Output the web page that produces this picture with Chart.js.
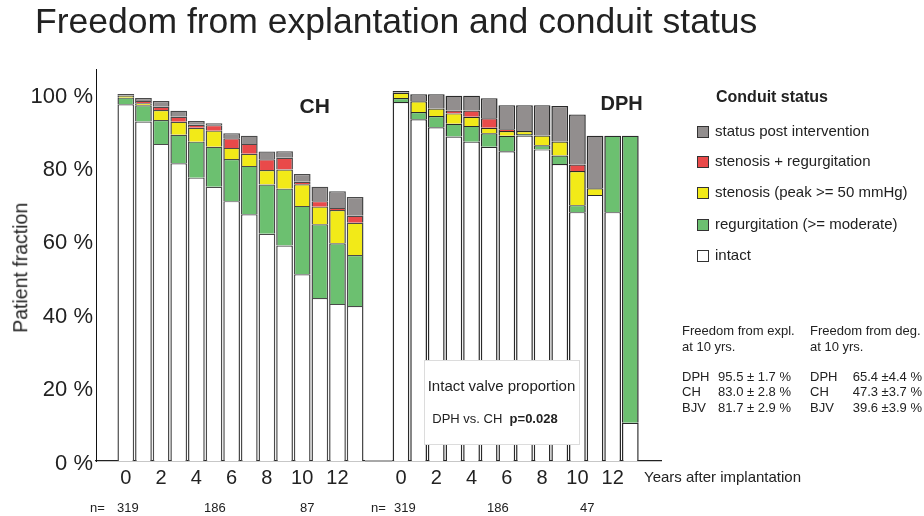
<!DOCTYPE html>
<html><head><meta charset="utf-8">
<script src="https://cdn.jsdelivr.net/npm/chart.js@4.4.1/dist/chart.umd.min.js"></script>
<style>
html,body{margin:0;padding:0;background:#fff;}
#wrap{position:relative;width:924px;height:516px;overflow:hidden;font-family:"Liberation Sans",Arial,Helvetica,sans-serif;color:#222;}
#c{position:absolute;left:0;top:0;}
.t{position:absolute;white-space:nowrap;line-height:1;}
.box{position:absolute;width:10px;height:10px;border:1px solid #333;}
</style></head><body>
<div id="wrap"><canvas id="c" width="924" height="516"></canvas></div>
<script>
// ---------------- DATA ----------------
const years = [0,1,2,3,4,5,6,7,8,9,10,11,12,13];
const xTickYears = [0,2,4,6,8,10,12];
const yTicks = [0,20,40,60,80,100];
const statusLabels = ["intact","regurgitation (>= moderate)","stenosis (peak >= 50 mmHg)","stenosis + regurgitation","status post intervention"];

// CH conduits (% of patients)
const chIntact  = [97.2,92.5,86.4,81.1,77.2,74.7,70.8,67.2,61.9,58.7,50.9,44.4,42.8,42.2];
const chRegurg  = [1.8,4.4,6.5,7.8,9.8,10.9,11.5,13.2,13.4,15.5,18.6,20.1,16.5,13.9];
const chSten    = [0.5,0.6,2.7,3.5,3.8,4.4,3.0,3.3,4.0,5.2,5.9,4.8,9.1,8.8];
const chStenReg = [0,0.6,0.9,1.4,0.8,1.5,2.6,2.7,2.9,3.2,0.7,1.5,0.5,1.9];
const chInterv  = [0.5,0.8,1.6,1.6,1.0,0.5,1.4,2.2,2.1,1.8,2.1,3.9,4.6,5.1];

// DPH conduits (% of patients)
const dphIntact  = [97.8,93.1,90.9,88.4,87.0,85.6,84.4,88.7,84.9,80.9,67.8,72.5,67.8,10.4];
const dphRegurg  = [1.1,2.0,3.1,3.5,4.3,3.7,4.2,0.4,1.1,2.3,1.9,0,20.8,78.2];
const dphSten    = [1.4,2.9,2.0,2.8,2.5,1.5,1.3,0.8,2.7,3.8,9.3,1.8,0,0];
const dphStenReg = [0,0,0,0.8,1.7,2.6,0.5,0,0,0,1.8,0,0,0];
const dphInterv  = [0.5,1.9,3.9,4.0,4.0,5.4,6.5,7.0,8.2,9.7,13.6,14.3,0,0];

const nCH  = [319,186,87];
const nDPH = [319,186,47];

const statsExpl = [["DPH","95.5 \u00b1 1.7 %"],["CH","83.0 \u00b1 2.8 %"],["BJV","81.7 \u00b1 2.9 %"]];
const statsDeg  = [["DPH","65.4 \u00b14.4 %"],["CH","47.3 \u00b13.7 %"],["BJV","39.6 \u00b13.9 %"]];

// ---------------- STYLE ----------------
const colors = ["#ffffff","#6cc070","#f2ea18","#e94a4a","#928e8e"];
const SHIFT = 15.6; // horizontal offset of the DPH panel on the shared x scale

const chSeries  = [chIntact,chRegurg,chSten,chStenReg,chInterv];
const dphSeries = [dphIntact,dphRegurg,dphSten,dphStenReg,dphInterv];

const datasets = statusLabels.map((lab,k)=>({
  label: lab,
  data: years.map((yr,i)=>({x:yr, y: chSeries[k][i] || null}))
        .concat(years.map((yr,i)=>({x:yr+SHIFT, y: dphSeries[k][i] || null}))),
  backgroundColor: colors[k],
  borderColor: ctx => (ctx.raw && ctx.raw.x > SHIFT-1) ? "#2a2a2a" : "#4a4a4a",
  borderWidth: {top:1.2,bottom:0,left:1.5,right:1.5},
  borderSkipped: false,
  categoryPercentage: 1,
  barPercentage: 0.95
}));

const gapPlugin = {
  id:"gap",
  afterDraw(chart){
    const ctx = chart.ctx, xs = chart.scales.x, y = chart.chartArea.bottom;
    const a = xs.getPixelForValue(13.5)+1, b = xs.getPixelForValue(SHIFT-0.5);
    ctx.save();
    ctx.strokeStyle="#ffffff"; ctx.lineWidth=3;
    ctx.beginPath(); ctx.moveTo(a,y); ctx.lineTo(b,y); ctx.stroke();
    ctx.strokeStyle="#a8a8a8"; ctx.lineWidth=2;
    ctx.beginPath(); ctx.moveTo(a,y); ctx.lineTo(b,y); ctx.stroke();
    ctx.restore();
  }
};

new Chart(document.getElementById("c"), {
  type:"bar",
  data:{datasets},
  options:{
    responsive:false, animation:false, devicePixelRatio:1,
    layout:{padding:{left:0,right:263,top:69,bottom:0}},
    plugins:{legend:{display:false},tooltip:{enabled:false}},
    scales:{
      x:{
        type:"linear", stacked:true, offset:false,
        min:-1.69, max:30.34,
        grid:{display:false, drawTicks:false},
        border:{display:true,color:"#222",width:1.2},
        afterBuildTicks(s){ s.ticks = xTickYears.map(v=>({value:v})).concat(xTickYears.map(v=>({value:v+SHIFT}))); },
        afterFit(s){ s.height = 55; },
        ticks:{autoSkip:false,maxRotation:0,padding:5,color:"#222",
          font:{family:"'Liberation Sans', Arial, sans-serif",size:20},
          callback:(v)=> String(Math.round(v >= SHIFT-1 ? v-SHIFT : v))}
      },
      y:{
        stacked:true, min:0, max:106.8,
        grid:{display:false, drawTicks:false},
        border:{display:true,color:"#111",width:1},
        afterBuildTicks(s){ s.ticks = yTicks.map(v=>({value:v})); },
        afterFit(s){ s.width = 96; },
        ticks:{padding:3,color:"#222",labelOffset:2.5,
          font:{family:"'Liberation Sans', Arial, sans-serif",size:22},
          callback:(v)=> v + " %"}
      }
    }
  },
  plugins:[gapPlugin]
});

// ---------------- TEXT ----------------
const wrap = document.getElementById("wrap");
function txt(s, left, baseline, size, opt){
  opt = opt || {};
  const d = document.createElement("div");
  d.className = "t";
  d.textContent = s;
  d.style.fontSize = size+"px";
  d.style.top = (baseline - 0.8465*size)+"px";
  if (opt.bold) d.style.fontWeight = "bold";
  if (opt.align === "right"){ d.style.left=(left-400)+"px"; d.style.width="400px"; d.style.textAlign="right"; }
  else if (opt.align === "center"){ d.style.left=(left-200)+"px"; d.style.width="400px"; d.style.textAlign="center"; }
  else d.style.left = left+"px";
  if (opt.html) d.innerHTML = s;
  wrap.appendChild(d);
  return d;
}

txt("Freedom from explantation and conduit status", 35, 34, 35.5);
txt("CH", 299.5, 113, 21, {bold:true});
txt("DPH", 600.5, 110, 20, {bold:true});

// rotated y title
const yt = document.createElement("div");
yt.className="t"; yt.textContent="Patient fraction";
yt.style.fontSize="19.5px"; yt.style.width="200px"; yt.style.textAlign="center";
yt.style.left=(21-100)+"px"; yt.style.top=(268-10)+"px";
yt.style.transform="rotate(-90deg)";
wrap.appendChild(yt);

txt("Years after implantation", 644, 482, 15);

// n row
txt("n=", 90, 512, 13);
const nLeftPos = [117,204,300];
nCH.forEach((n,i)=>txt(String(n), nLeftPos[i], 512, 13));
txt("n=", 371, 512, 13);
const nRightPos = [394,487,580];
nDPH.forEach((n,i)=>txt(String(n), nRightPos[i], 512, 13));

// legend
txt("Conduit status", 716, 103, 16, {bold:true});
const legY = [131,161,192,224,255];
for (let j=0;j<5;j++){
  const k = 4-j;
  const b = document.createElement("div");
  b.className="box"; b.style.left="697px"; b.style.top=(legY[j]-5.5)+"px";
  b.style.background=colors[k];
  wrap.appendChild(b);
  txt(statusLabels[k], 715, legY[j]+4.5, 15);
}

// stats
txt("Freedom from expl.", 682, 335, 13);
txt("at 10 yrs.", 682, 351, 13);
txt("Freedom from deg.", 810, 335, 13);
txt("at 10 yrs.", 810, 351, 13);
const sb = [381,396,412];
statsExpl.forEach((r,i)=>{ txt(r[0],682,sb[i],13); txt(r[1],791,sb[i],13,{align:"right"}); });
statsDeg.forEach((r,i)=>{ txt(r[0],810,sb[i],13); txt(r[1],922,sb[i],13,{align:"right"}); });

// inset box
const ib = document.createElement("div");
ib.style.cssText="position:absolute;left:424px;top:360px;width:154px;height:83px;background:#fff;border:1px solid #dcdcdc;";
wrap.appendChild(ib);
txt("Intact valve proportion", 501.5, 390.5, 15, {align:"center"});
txt("DPH vs. CH&nbsp;&nbsp;<b>p=0.028</b>", 495, 422.7, 13, {align:"center", html:true});
</script>
</body></html>
